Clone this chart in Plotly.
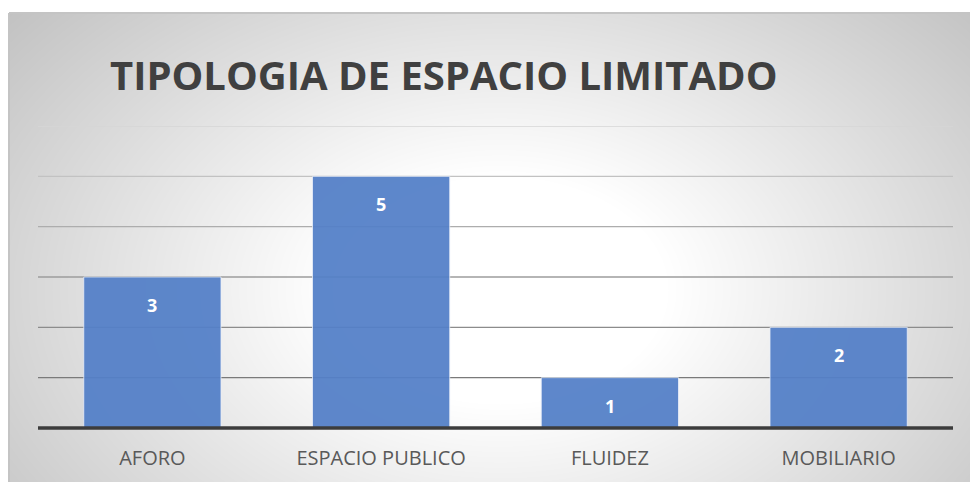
import base64
import struct
import zlib

import numpy as np
import plotly.graph_objects as go

# ---- data -------------------------------------------------------------
categories = ["AFORO", "ESPACIO PUBLICO", "FLUIDEZ", "MOBILIARIO"]
values = [3, 5, 1, 2]
y_ticks = [0, 1, 2, 3, 4, 5, 6]
title_text = "TIPOLOGIA DE ESPACIO LIMITADO"

# ---- geometry / style -------------------------------------------------
W, H = 970, 482
M_L, M_R, M_T, M_B = 38, 17, 126, 54
PLOT_W = W - M_L - M_R
PLOT_H = H - M_T - M_B
BOX_X0, BOX_Y0 = 9, 13          # top-left corner of the chart frame (px)

BAR_COLOR = "#5480C8"
GRID_COLORS = ["#7a7a7a", "#8c8c8c", "#9c9c9c", "#adadad", "#c2c2c2", "#d6d6d6"]
FONT = "Open Sans"


def px_to_paper_x(px):
    return (px - M_L) / PLOT_W


def px_to_paper_y(py):
    return (H - M_B - py) / PLOT_H


def gray_png(arr):
    """Encode a 2-D uint8 array as a grayscale PNG."""
    h, w = arr.shape
    raw = b"".join(b"\x00" + arr[i].tobytes() for i in range(h))

    def chunk(tag, data):
        return (struct.pack(">I", len(data)) + tag + data
                + struct.pack(">I", zlib.crc32(tag + data) & 0xFFFFFFFF))

    return (b"\x89PNG\r\n\x1a\n"
            + chunk(b"IHDR", struct.pack(">IIBBBBB", w, h, 8, 0, 0, 0, 0))
            + chunk(b"IDAT", zlib.compress(raw, 9))
            + chunk(b"IEND", b""))


# radial white-to-grey backdrop for the chart frame
bw, bh = W - BOX_X0, H - BOX_Y0
yy, xx = np.mgrid[0:bh, 0:bw]
cx, cy, rx, ry = 500 - BOX_X0, 290 - BOX_Y0, 560.0, 380.0
d = np.sqrt(((xx - cx) / rx) ** 2 + ((yy - cy) / ry) ** 2)
shade = 255 - 72 * np.clip(d - 0.3, 0, None)
shade = np.clip(shade, 188, 255).astype(np.uint8)
bg_uri = "data:image/png;base64," + base64.b64encode(gray_png(shade)).decode()

fig = go.Figure()

fig.add_trace(go.Bar(
    x=categories,
    y=values,
    width=0.6,
    marker=dict(color=BAR_COLOR, opacity=0.94,
                line=dict(color="rgba(235,240,250,0.8)", width=1)),
    hoverinfo="skip",
))

# value labels inside the bars, just below the top edge
for cat, val in zip(categories, values):
    fig.add_annotation(
        x=cat, y=val, text=f"<b>{val}</b>", showarrow=False,
        yanchor="middle", yshift=-28,
        font=dict(family=FONT, size=18, color="white"),
    )

# horizontal gridlines, darker toward the baseline
for v, col in zip(y_ticks[1:], GRID_COLORS):
    fig.add_shape(type="line", xref="paper", x0=0, x1=1, yref="y", y0=v, y1=v,
                  line=dict(color=col, width=1.3), layer="below")

# baseline (paper-referenced so the stroke is not clipped at the plot edge)
fig.add_shape(type="line", xref="paper", x0=0, x1=1, yref="paper", y0=0, y1=0,
              line=dict(color="#3c3c3c", width=3.5), layer="above")

# chart frame edges
fx0, fy0 = px_to_paper_x(BOX_X0), px_to_paper_y(BOX_Y0)
fx1, fy1 = px_to_paper_x(W), px_to_paper_y(H)
fig.add_shape(type="line", xref="paper", yref="paper", x0=fx0, x1=fx1, y0=fy0, y1=fy0,
              line=dict(color="#c4c4c4", width=2), layer="below")
fig.add_shape(type="line", xref="paper", yref="paper", x0=fx0, x1=fx0, y0=fy0, y1=fy1,
              line=dict(color="#c4c4c4", width=2), layer="below")

fig.add_layout_image(dict(
    source=bg_uri, xref="paper", yref="paper",
    x=fx0, y=fy0, sizex=fx1 - fx0, sizey=fy0 - fy1,
    xanchor="left", yanchor="top", sizing="stretch", layer="below",
))

fig.add_annotation(
    xref="paper", yref="paper", x=px_to_paper_x(108), y=px_to_paper_y(75),
    xanchor="left", yanchor="middle", showarrow=False,
    text=f"<b>{title_text}</b>",
    font=dict(family=FONT, size=40, color="#404040"),
)

fig.update_layout(
    width=W, height=H,
    margin=dict(l=M_L, r=M_R, t=M_T, b=M_B),
    paper_bgcolor="white",
    plot_bgcolor="rgba(0,0,0,0)",
    showlegend=False,
    bargap=0.4,
    xaxis=dict(
        type="category", showgrid=False, zeroline=False, showline=False,
        ticks="outside", ticklen=12, tickcolor="rgba(0,0,0,0)",
        tickfont=dict(family=FONT, size=20, color="#595959"),
        fixedrange=True,
    ),
    yaxis=dict(
        range=[y_ticks[0], y_ticks[-1]], tickvals=y_ticks, showticklabels=False,
        showgrid=False, zeroline=False, showline=False, fixedrange=True,
    ),
)

fig.write_html("out.html")
